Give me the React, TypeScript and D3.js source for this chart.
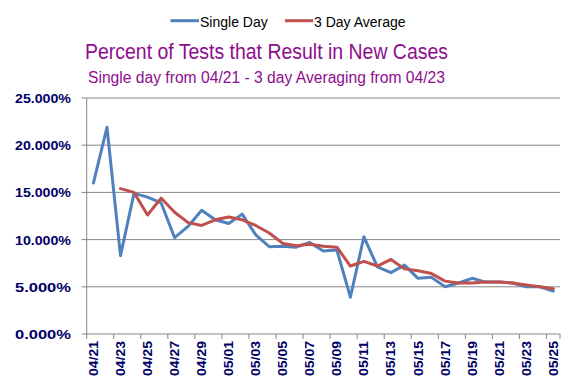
import React from 'react'
import * as d3 from 'd3'

const dates = [
    '04/21', '04/22', '04/23', '04/24', '04/25', '04/26', '04/27', '04/28', '04/29', '04/30',
    '05/01', '05/02', '05/03', '05/04', '05/05', '05/06', '05/07', '05/08', '05/09', '05/10',
    '05/11', '05/12', '05/13', '05/14', '05/15', '05/16', '05/17', '05/18', '05/19', '05/20',
    '05/21', '05/22', '05/23', '05/24', '05/25',
];

const singleDay = [
    16.0, 21.9, 8.3, 14.9, 14.5, 13.9, 10.2, 11.4, 13.1, 12.1,
    11.7, 12.7, 10.5, 9.25, 9.3, 9.2, 9.7, 8.8, 8.9, 3.9,
    10.3, 7.1, 6.5, 7.3, 5.9, 6.0, 5.0, 5.4, 5.9, 5.5,
    5.5, 5.4, 5.0, 5.0, 4.55,
];

const threeDayAvg: (number | null)[] = [
    null, null, 15.4, 15.0, 12.6, 14.4, 12.9, 11.8, 11.5, 12.1,
    12.4, 12.1, 11.5, 10.7, 9.6, 9.35, 9.5, 9.3, 9.2, 7.2,
    7.7, 7.2, 7.9, 6.9, 6.7, 6.4, 5.6, 5.4, 5.4, 5.5,
    5.5, 5.4, 5.2, 5.0, 4.8,
];

const yTicks = [0, 5, 10, 15, 20, 25];

const width = 577;
const height = 384;
const margin = { left: 86.7, right: 17, top: 98, bottom: 50 };

const blue = '#4F81BD';
const red = '#C0504D';
const purple = '#8E0C8E';
const navy = '#000066';

const App = () => {
    const x = d3
        .scaleBand()
        .domain(dates)
        .range([margin.left, width - margin.right]);
    const y = d3
        .scaleLinear()
        .domain([0, 25])
        .range([height - margin.bottom, margin.top]);

    const cx = (d: string) => (x(d) as number) + x.bandwidth() / 2;

    const blueLine = d3.line<number>()
        .x((_, i) => cx(dates[i]))
        .y(d => y(d));
    const redLine = d3.line<number | null>()
        .defined(d => d !== null)
        .x((_, i) => cx(dates[i]))
        .y(d => y(d as number));

    const tickDates = dates.filter((_, i) => i % 2 === 0);
    const fmt = d3.format('.3f');

    return (
        <svg width={width} height={height} style={{ position: 'absolute', left: 0, top: 0 }}
            fontFamily="'Liberation Sans', Arial, sans-serif">
            <rect width={width} height={height} fill="#fff" />

            {/* legend */}
            <line x1={170.5} x2={199} y1={20.7} y2={20.7} stroke={blue} strokeWidth={3} />
            <text x={200} y={27} fontSize={14} fill="#000">Single Day</text>
            <line x1={285} x2={313} y1={20.7} y2={20.7} stroke={red} strokeWidth={3} />
            <text x={314} y={27} fontSize={14} fill="#000">3 Day Average</text>

            {/* titles */}
            <text x={266.5} y={59} fontSize={22} fill={purple} textAnchor="middle"
                textLength={363} lengthAdjust="spacingAndGlyphs">
                Percent of Tests that Result in New Cases
            </text>
            <text x={266.5} y={83} fontSize={16} fill={purple} textAnchor="middle"
                textLength={357} lengthAdjust="spacingAndGlyphs">
                Single day from 04/21 - 3 day Averaging from 04/23
            </text>

            {/* grid and y axis */}
            {yTicks.map(t => (
                <g key={t}>
                    <line x1={margin.left} x2={width - margin.right} y1={y(t)} y2={y(t)}
                        stroke="#868686" strokeWidth={1} />
                    <line x1={margin.left - 5} x2={margin.left} y1={y(t)} y2={y(t)}
                        stroke="#868686" strokeWidth={1} />
                    <text x={71} y={y(t) + 5} fontSize={13} fontWeight="bold" fill={navy}
                        textAnchor="end" textLength={56} lengthAdjust="spacingAndGlyphs">{fmt(t)}%</text>
                </g>
            ))}
            <line x1={margin.left} x2={margin.left} y1={margin.top} y2={height - margin.bottom}
                stroke="#868686" strokeWidth={1} />

            {/* x axis ticks and labels */}
            {tickDates.map(d => (
                <g key={d}>
                    <line x1={x(d)} x2={x(d)} y1={height - margin.bottom} y2={height - margin.bottom + 5}
                        stroke="#868686" strokeWidth={1} />
                    <text transform={`translate(${cx(d) + 4.5},${height - margin.bottom + 7}) rotate(-90)`}
                        fontSize={12} fontWeight="bold" fill={navy} textAnchor="end"
                        textLength={35} lengthAdjust="spacingAndGlyphs">{d}</text>
                </g>
            ))}
            <line x1={width - margin.right} x2={width - margin.right}
                y1={height - margin.bottom} y2={height - margin.bottom + 5}
                stroke="#868686" strokeWidth={1} />

            {/* series */}
            <path d={blueLine(singleDay) as string} fill="none" stroke={blue} strokeWidth={3}
                strokeLinejoin="round" strokeLinecap="round" />
            <path d={redLine(threeDayAvg) as string} fill="none" stroke={red} strokeWidth={3}
                strokeLinejoin="round" strokeLinecap="round" />
        </svg>
    );
}

export default App;
